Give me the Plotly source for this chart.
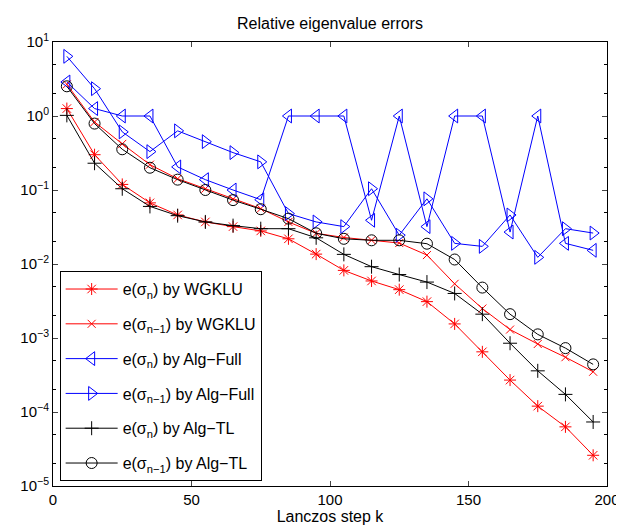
import plotly.graph_objects as go

k = [5, 15, 25, 35, 45, 55, 65, 75, 85, 95, 105, 115, 125, 135, 145, 155, 165, 175, 185, 195]

wgklu_n = [1.26, 0.30, 0.119, 0.067, 0.046, 0.037, 0.032, 0.028, 0.0219, 0.0136, 0.0082, 0.0059, 0.0045,
           0.0031, 0.00155, 0.00065, 0.00027, 0.00012, 0.000063, 0.000026]
wgklu_n1 = [2.68, 0.83, 0.42, 0.22, 0.142, 0.104, 0.075, 0.056, 0.037, 0.026, 0.0228, 0.021, 0.0192,
            0.0132, 0.0054, 0.0025, 0.0013, 0.00083, 0.00055, 0.00035]
full_n = [2.88, 1.26, 1.0, 1.0, 0.205, 0.138, 0.1, 0.074, 1.0, 1.0, 1.0, 0.039, 1.0, 0.032, 1.0, 1.0,
          0.027, 1.0, 0.019, 0.0153]
full_n1 = [6.4, 2.34, 0.61, 0.33, 0.63, 0.45, 0.32, 0.24, 0.048, 0.037, 0.032, 0.104, 0.0245, 0.076,
           0.019, 0.0173, 0.046, 0.0123, 0.030, 0.0262]
tl_n = [1.02, 0.23, 0.104, 0.060, 0.045, 0.037, 0.033, 0.030, 0.030, 0.0226, 0.0135, 0.0092, 0.0072,
        0.0057, 0.0040, 0.0021, 0.00085, 0.00036, 0.000173, 0.0000733]
tl_n1 = [2.52, 0.79, 0.355, 0.20, 0.138, 0.10, 0.073, 0.055, 0.041, 0.026, 0.0219, 0.0209, 0.0209,
         0.0188, 0.0115, 0.0048, 0.0021, 0.00112, 0.00073, 0.00044]

names = ["e(σ<sub>n</sub>) by WGKLU", "e(σ<sub>n−1</sub>) by WGKLU",
         "e(σ<sub>n</sub>) by Alg−Full", "e(σ<sub>n−1</sub>) by Alg−Full",
         "e(σ<sub>n</sub>) by Alg−TL", "e(σ<sub>n−1</sub>) by Alg−TL"]
series = [wgklu_n, wgklu_n1, full_n, full_n1, tl_n, tl_n1]
colors = ["#ff0000", "#ff0000", "#0000ff", "#0000ff", "#000000", "#000000"]
symbols = ["asterisk-open", "x-thin-open", "triangle-left-open", "triangle-right-open",
           "cross-thin-open", "circle-open"]
sizes = [10, 8, 12, 12, 10, 11]

fig = go.Figure()
for i, (nm, ys, c, s, sz) in enumerate(zip(names, series, colors, symbols, sizes)):
    fig.add_trace(go.Scatter(
        x=k, y=ys, name=nm, mode="lines+markers", legendgroup=f"g{i}",
        line=dict(color=c, width=1),
        marker=dict(symbol=s, size=sz, color=c, line=dict(color=c, width=1)),
    ))

ytick_vals = [1e-5, 1e-4, 1e-3, 1e-2, 1e-1, 1, 10]
ytick_text = ["10<sup>−5</sup>", "10<sup>−4</sup>", "10<sup>−3</sup>", "10<sup>−2</sup>",
              "10<sup>−1</sup>", "10<sup>0</sup>", "10<sup>1</sup>"]

font_family = "Liberation Sans, Arial, Helvetica, sans-serif"

fig.update_layout(
    width=624, height=525,
    margin=dict(l=45, r=14, t=34, b=46),
    paper_bgcolor="white", plot_bgcolor="white",
    font=dict(family=font_family, size=15, color="black"),
    title=dict(text="Relative eigenvalue errors", x=0.5, xref="paper",
               y=1 - 15 / 525, yref="container", yanchor="middle",
               font=dict(size=16)),
    showlegend=True,
    legend=dict(x=0.012, y=0.011, xanchor="left", yanchor="bottom",
                bgcolor="white", bordercolor="black", borderwidth=1,
                font=dict(size=16), itemwidth=52, tracegroupgap=11),
    xaxis=dict(range=[0, 200], tickvals=[0, 50, 100, 150, 200], ticks="inside", ticklen=5,
               showline=True, linecolor="black", linewidth=1, mirror="allticks",
               showgrid=False, zeroline=False,
               title=dict(text="Lanczos step k", standoff=2, font=dict(size=16))),
    yaxis=dict(type="log", range=[-5, 1], tickvals=ytick_vals, ticktext=ytick_text,
               ticks="inside", ticklen=5, showline=True, linecolor="black", linewidth=1,
               mirror="allticks", showgrid=False, zeroline=False,
               minor=dict(ticks="inside", ticklen=3, tickcolor="black", showgrid=False)),
)

fig.write_html("out.html")
